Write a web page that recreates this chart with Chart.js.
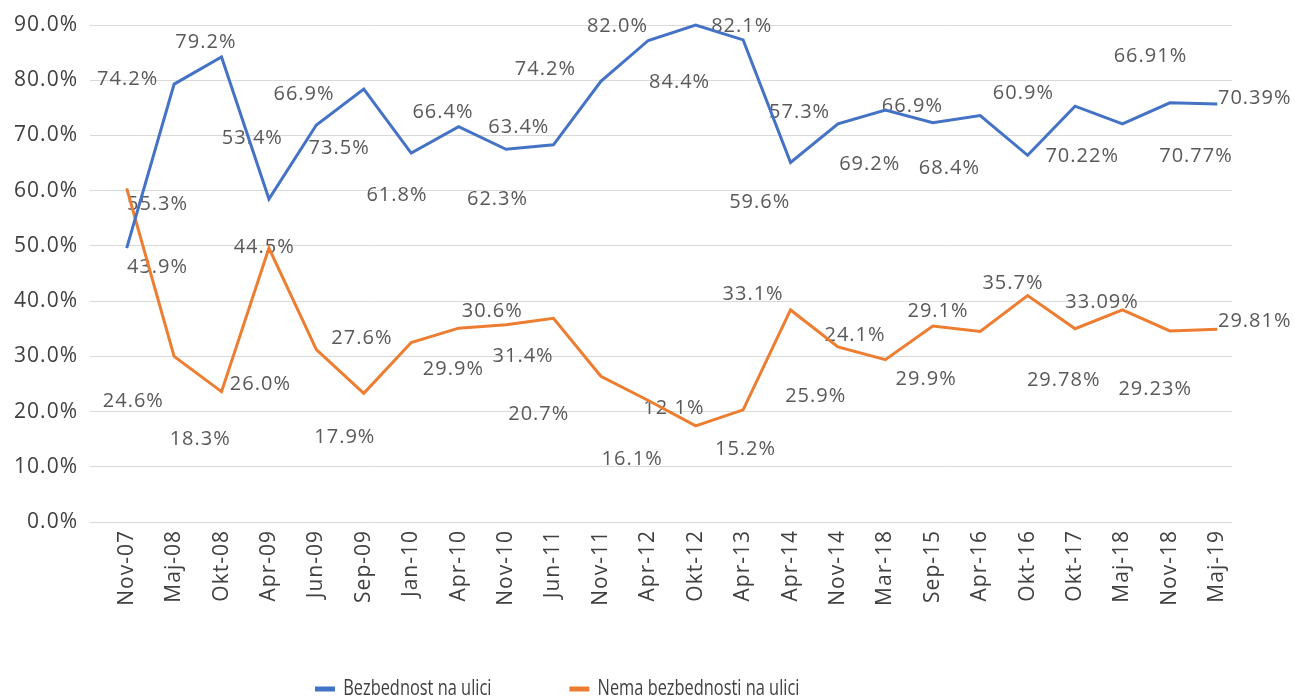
<!DOCTYPE html>
<html>
<head>
<meta charset="utf-8">
<script src="https://cdn.jsdelivr.net/npm/chart.js@4.4.1/dist/chart.umd.min.js"></script>
<style>
  html, body { margin: 0; padding: 0; background: #ffffff; overflow: hidden; }
  #wrap { width: 1295px; height: 736px; }
</style>
</head>
<body>
<div id="wrap"><canvas id="c" width="1295" height="736"></canvas></div>
<script>
// ---- data ----
const categories = ['Nov-07','Maj-08','Okt-08','Apr-09','Jun-09','Sep-09','Jan-10','Apr-10','Nov-10','Jun-11','Nov-11','Apr-12','Okt-12','Apr-13','Apr-14','Nov-14','Mar-18','Sep-15','Apr-16','Okt-16','Okt-17','Maj-18','Nov-18','Maj-19'];
const seriesNames = ['Bezbednost na ulici', 'Nema bezbednosti na ulici'];
const safeValues = [49.6, 79.3, 84.2, 58.5, 71.9, 78.4, 66.8, 71.6, 67.5, 68.3, 79.8, 87.2, 90.0, 87.3, 65.1, 72.1, 74.6, 72.3, 73.6, 66.4, 75.3, 72.1, 75.9, 75.7];
const unsafeValues = [60.4, 30.0, 23.6, 49.6, 31.2, 23.3, 32.5, 35.1, 35.7, 36.9, 26.4, 22.0, 17.4, 20.3, 38.4, 31.7, 29.4, 35.5, 34.5, 41.0, 35.0, 38.4, 34.6, 34.9];
const yTicks = [0, 10, 20, 30, 40, 50, 60, 70, 80, 90];
const safeLabels = ['74.2%','55.3%','79.2%','53.4%','66.9%','73.5%','61.8%','66.4%','62.3%','63.4%','74.2%','82.0%','84.4%','82.1%','59.6%','57.3%','69.2%','66.9%','68.4%','60.9%','70.22%','66.91%','70.77%','70.39%'];
const unsafeLabels = ['24.6%','43.9%','18.3%','26.0%','44.5%','17.9%','27.6%','29.9%','30.6%','31.4%','20.7%','16.1%','12.1%','15.2%','33.1%','25.9%','24.1%','29.9%','29.1%','35.7%','29.78%','33.09%','29.23%','29.81%'];

// ---- label placement (annotation layout in axis units: [category index, percent]) ----
const labelLayout = {
  safe: [[0.02,80.2],[0.65,57.6],[1.67,86.8],[2.65,69.4],[3.74,77.4],[4.48,67.6],[5.70,59.1],[6.67,74.2],[7.82,58.5],[8.27,71.5],[8.83,82.0],[10.35,89.8],[11.66,79.7],[12.97,89.8],[13.35,57.9],[14.19,74.2],[15.67,64.7],[16.57,75.2],[17.35,64.1],[18.91,77.6],[20.15,66.2],[21.59,84.4],[22.55,66.2],[23.79,76.7]],
  unsafe: [[0.14,21.8],[0.65,46.1],[1.55,14.9],[2.82,24.9],[2.90,49.7],[4.60,15.3],[4.96,33.3],[6.89,27.6],[7.71,38.1],[8.36,30.0],[8.69,19.5],[10.66,11.4],[11.54,20.6],[13.05,13.2],[13.21,41.2],[14.53,22.8],[15.36,33.8],[16.86,25.8],[17.11,38.2],[18.69,43.3],[19.76,25.7],[20.57,39.8],[21.69,24.0],[23.79,36.3]]
};

const COLORS = { safe: '#4472C4', unsafe: '#ED7D31', label: '#595959', axis: '#404040', grid: '#d9d9d9' };
const LEGEND = { startX: 315, squeeze: 0.78, gap: 100, centerY: 689 };

Chart.defaults.font.family = '"Open Sans", "Noto Sans", sans-serif';

const textSpacing = {
  id: 'textSpacing',
  beforeDraw(chart) { chart.ctx.letterSpacing = '1px'; }
};

const freeLabels = {
  id: 'freeLabels',
  beforeDatasetsDraw(chart) {
    const { ctx, scales: { x, y } } = chart;
    ctx.save();
    ctx.font = '20px "Open Sans", "Noto Sans", sans-serif';
    ctx.fillStyle = COLORS.label;
    ctx.textAlign = 'center';
    ctx.textBaseline = 'middle';
    [[safeLabels, labelLayout.safe], [unsafeLabels, labelLayout.unsafe]].forEach(([texts, pos]) => {
      texts.forEach((t, i) => {
        ctx.fillText(t, x.getPixelForValue(pos[i][0]), y.getPixelForValue(pos[i][1]));
      });
    });
    ctx.restore();
  }
};

const legendTweak = {
  id: 'legendTweak',
  afterLayout(chart) {
    const l = chart.legend;
    if (!l) return;
    const fs = l.options.labels.font.size || 21;
    l.left = LEGEND.startX / LEGEND.squeeze - LEGEND.gap;
    const h = l.height;
    l.top = LEGEND.centerY - LEGEND.gap - fs / 2;
    l.bottom = l.top + h;
    if (!l._squeezed) {
      const orig = l.draw;
      l.draw = function () {
        const c = this.ctx;
        c.save();
        c.letterSpacing = '0px';
        c.scale(LEGEND.squeeze, 1);
        orig.apply(this, arguments);
        c.restore();
      };
      l._squeezed = true;
    }
  }
};

const toPoints = arr => arr.map((v, i) => ({ x: i, y: v }));

new Chart(document.getElementById('c'), {
  type: 'line',
  data: {
    datasets: [
      { label: seriesNames[0], data: toPoints(safeValues), borderColor: COLORS.safe, backgroundColor: COLORS.safe, borderWidth: 3, pointRadius: 0, tension: 0, clip: false },
      { label: seriesNames[1], data: toPoints(unsafeValues), borderColor: COLORS.unsafe, backgroundColor: COLORS.unsafe, borderWidth: 3, pointRadius: 0, tension: 0, clip: false }
    ]
  },
  options: {
    responsive: false,
    animation: false,
    devicePixelRatio: 1,
    layout: { padding: { top: 25, right: 63, left: 0, bottom: 0 } },
    plugins: {
      tooltip: { enabled: false },
      legend: {
        position: 'bottom',
        align: 'start',
        labels: {
          boxWidth: 20 / LEGEND.squeeze, boxHeight: 5, padding: LEGEND.gap, color: COLORS.axis,
          font: { size: 21 },
          generateLabels(chart) {
            const items = Chart.defaults.plugins.legend.labels.generateLabels(chart);
            items.forEach(it => { it.lineWidth = 0; it.fillStyle = it.strokeStyle; });
            return items;
          }
        }
      }
    },
    scales: {
      x: {
        type: 'linear', min: -0.774, max: 23.31, bounds: 'data',
        afterBuildTicks(s) { s.ticks = categories.map((c, i) => ({ value: i })); },
        afterFit(s) { s.height = 83; },
        ticks: { callback: v => categories[v], minRotation: 90, maxRotation: 90, autoSkip: false, padding: 8, color: COLORS.axis, font: { size: 21 } },
        grid: { display: false, drawTicks: false },
        border: { display: false }
      },
      y: {
        min: 0, max: 90,
        afterBuildTicks(s) { s.ticks = yTicks.map(v => ({ value: v })); },
        afterFit(s) { s.width = 90; },
        ticks: { callback: v => v.toFixed(1) + '%', padding: 12, color: COLORS.axis, font: { size: 21 } },
        grid: { color: COLORS.grid, lineWidth: 1, drawTicks: false },
        border: { display: false }
      }
    }
  },
  plugins: [textSpacing, freeLabels, legendTweak]
});
</script>
</body>
</html>
